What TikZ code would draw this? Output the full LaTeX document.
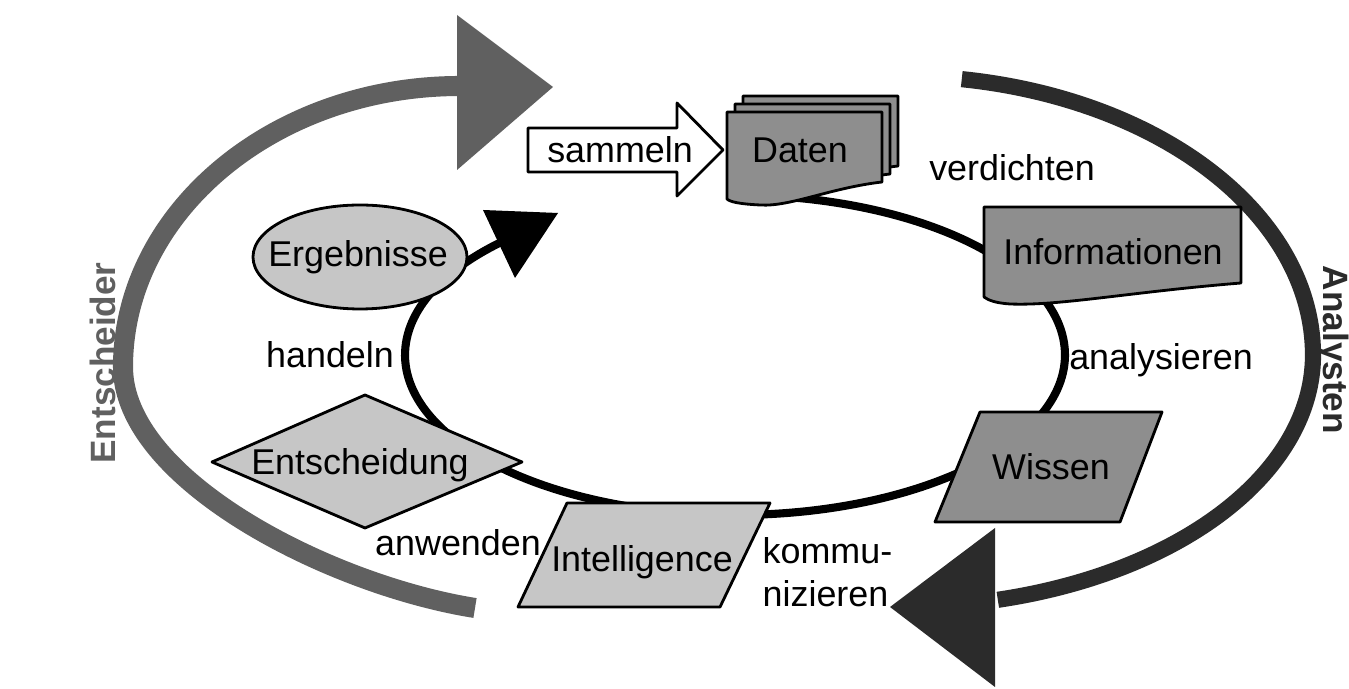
\documentclass[tikz,border=0pt]{standalone}
\usepackage{fontspec}
\setmainfont{Liberation Sans}
\usetikzlibrary{calc}
\definecolor{darkfill}{HTML}{8E8E8E}
\definecolor{lightfill}{HTML}{C6C6C6}
\definecolor{outergray}{HTML}{606060}
\definecolor{outerdark}{HTML}{2B2B2B}

\begin{document}
\begin{tikzpicture}[x=0.01cm,y=-0.01cm,
  font=\fontsize{10.2}{12.2}\selectfont,
  box/.style={draw=black,line width=0.8pt,line join=round},
  dark/.style={box,fill=darkfill},
  light/.style={box,fill=lightfill},
  lbl/.style={inner sep=0pt},
  ring/.style={line width=2.3pt},
  side/.style={inner sep=0pt,font=\fontsize{10}{12}\selectfont\bfseries}]
\useasboundingbox[fill=white] (0,0) rectangle (1349,689);
		%
		\coordinate (lstart) at (475,608);
		\coordinate (lmid) at (123,367);
		\coordinate (lend) at (460,86);
		\draw[line width=5.7pt,outergray] (lstart) .. controls (330,585) and (123,480) .. (lmid) .. controls (123,212) and (274,86) .. (lend);
		\fill[outergray] (457,15) -- (553,87) -- (457,170) -- cycle;
		\draw[line width=4.6pt,outerdark] plot[domain=-81.4:76.3,samples=90,smooth,variable=\t] ({900+413*cos(\t)},{355+(\t<0?279:252)*sin(\t)});
		\fill[outerdark] (995,528) -- (890,607) -- (995,687) -- cycle;
		\node[side,rotate=90,text=outergray] (entscheider) at (103,363) {Entscheider};
		\node[side,rotate=-90,text=outerdark] (analysten) at (1333,350) {Analysten};
		%
		\draw[ring] plot[domain=-80:226,samples=100,smooth,variable=\t] ({735+330*cos(\t)},{355+160*sin(\t)});
		\fill (483,210) -- (558,213) -- (515,278) -- cycle;
		%
		\foreach \s in {16,8,0}
		\draw[dark,shift={(\s,-\s)}] (727,112) -- (882,112) -- (882,182) .. controls (830,188) and (790,207) .. (760,205) .. controls (740,204) and (730,202) .. (727,199) -- cycle;
		\draw[dark] (984,207) -- (1241,207) -- (1241,283) .. controls (1130,292) and (1060,306) .. (1010,304) .. controls (995,303) and (988,300) .. (984,297) -- cycle;
		\draw[dark] (980,412) -- (1162,412) -- (1120,522) -- (935,522) -- cycle;
		\draw[light] (567,503) -- (770,503) -- (720,607) -- (518,607) -- cycle;
		\draw[light] (212,462) -- (365,395) -- (522,462) -- (365,528) -- cycle;
		\draw[light] (360,257) ellipse[x radius=107,y radius=52];
		\draw[box,fill=white] (528,128) -- (677,128) -- (677,103) -- (723,150) -- (677,196) -- (677,172) -- (528,172) -- cycle;
		%
		\node[lbl] (sammeln) at (620,150) {sammeln};
		\node[lbl] (daten) at (800,150) {Daten};
		\node[lbl] (info) at (1113,252) {Informationen};
		\node[lbl] (wissen) at (1051,467) {Wissen};
		\node[lbl] (intel) at (642,562) {Intelligence};
		\node[lbl] (entsch) at (360,465) {Entscheidung};
		\node[lbl] (ergeb) at (358,257) {Ergebnisse};
		%
		\node[lbl] (verd) at (1012,168) {verdichten};
		\node[lbl] (analys) at (1161,360) {analysieren};
		\node[lbl,align=left,anchor=west] (kommu) at (762,572) {kommu-\\nizieren};
		\node[lbl] (anw) at (458,543) {anwenden};
		\node[lbl] (hand) at (330,355) {handeln};
\end{tikzpicture}
\end{document}
